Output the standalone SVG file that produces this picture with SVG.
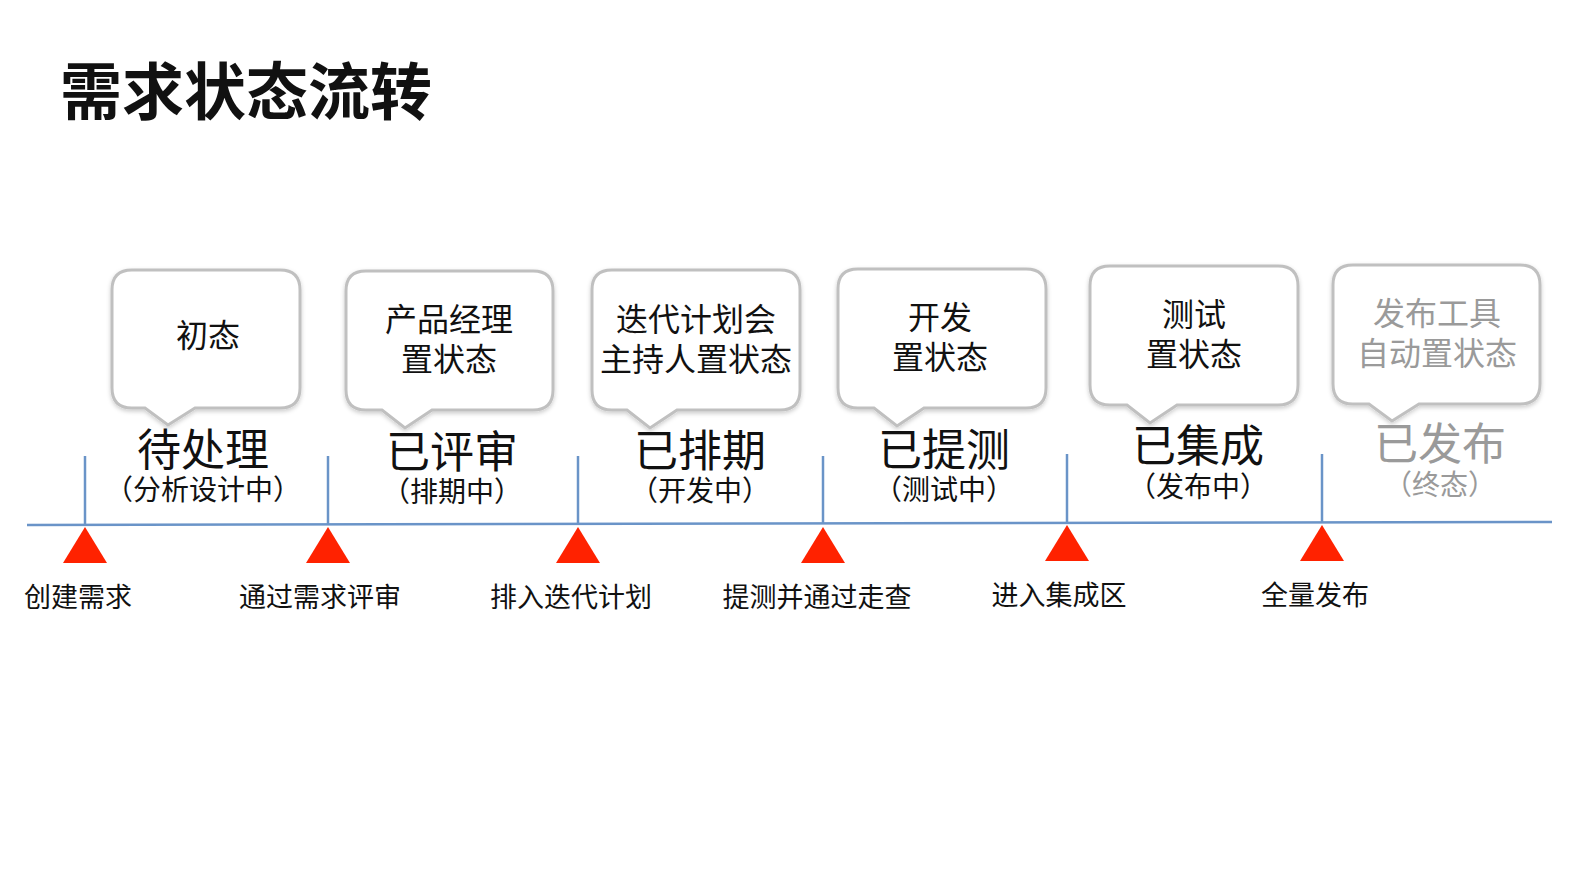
<svg xmlns="http://www.w3.org/2000/svg" width="1587" height="892" viewBox="0 0 1587 892">
<style>
text{font-family:"Liberation Sans","Noto Sans CJK SC",sans-serif;text-anchor:middle;fill:#111}
.t{font-size:62px;text-anchor:start;font-weight:bold}
.c{font-size:32px}
.s{font-size:44px}
.p{font-size:28px}
.b{font-size:27px}
.g{fill:#9a9a9a}
.bub{fill:#fff;stroke:#c0c0c0;stroke-width:3}
.tick{stroke:#6a94c8;stroke-width:2.5}
.tri{fill:#ff2200}
</style>
<defs><filter id="sh"><feDropShadow dx="0" dy="2" stdDeviation="2" flood-opacity="0.2"/></filter></defs>
<text class="t" x="60" y="115">需求状态流转</text>
<g id="connectors">
<line class="tick" x1="27" y1="525" x2="1552" y2="522"/>
<line class="tick" x1="85" y1="456" x2="85" y2="525"/>
<line class="tick" x1="328" y1="456" x2="328" y2="525"/>
<line class="tick" x1="578" y1="456" x2="578" y2="524"/>
<line class="tick" x1="823" y1="456" x2="823" y2="524"/>
<line class="tick" x1="1067" y1="454" x2="1067" y2="523"/>
<line class="tick" x1="1322" y1="454" x2="1322" y2="523"/>
<polygon class="tri" points="85,527 107,563 63,563"/>
<polygon class="tri" points="328,527 350,563 306,563"/>
<polygon class="tri" points="578,527 600,563 556,563"/>
<polygon class="tri" points="823,527 845,563 801,563"/>
<polygon class="tri" points="1067,525 1089,561 1045,561"/>
<polygon class="tri" points="1322,525 1344,561 1300,561"/>
</g>
<g id="n1"><path class="bub" filter="url(#sh)" d="M132,270 H280 Q300,270 300,290 V388 Q300,408 280,408 H195 L168,425 L145,408 H132 Q112,408 112,388 V290 Q112,270 132,270 Z"/>
<text class="c" x="208" y="347">初态</text>
<text class="s" x="203" y="466">待处理</text><text class="p" x="203" y="500">（分析设计中）</text>
<text class="b" x="78" y="607">创建需求</text></g>
<g id="n2"><path class="bub" filter="url(#sh)" d="M366,271 H533 Q553,271 553,291 V390 Q553,410 533,410 H432 L405,428 L382,410 H366 Q346,410 346,390 V291 Q346,271 366,271 Z"/>
<text class="c" x="449" y="331">产品经理</text><text class="c" x="449" y="371">置状态</text>
<text class="s" x="452" y="468">已评审</text><text class="p" x="452" y="502">（排期中）</text>
<text class="b" x="320" y="607">通过需求评审</text></g>
<g id="n3"><path class="bub" filter="url(#sh)" d="M612,270 H780 Q800,270 800,290 V390 Q800,410 780,410 H677 L650,428 L627,410 H612 Q592,410 592,390 V290 Q592,270 612,270 Z"/>
<text class="c" x="696" y="331">迭代计划会</text><text class="c" x="696" y="371">主持人置状态</text>
<text class="s" x="700" y="467">已排期</text><text class="p" x="700" y="501">（开发中）</text>
<text class="b" x="571" y="607">排入迭代计划</text></g>
<g id="n4"><path class="bub" filter="url(#sh)" d="M858,269 H1026 Q1046,269 1046,289 V388 Q1046,408 1026,408 H924 L897,426 L874,408 H858 Q838,408 838,388 V289 Q838,269 858,269 Z"/>
<text class="c" x="940" y="329">开发</text><text class="c" x="940" y="369">置状态</text>
<text class="s" x="944" y="466">已提测</text><text class="p" x="944" y="500">（测试中）</text>
<text class="b" x="817" y="607">提测并通过走查</text></g>
<g id="n5"><path class="bub" filter="url(#sh)" d="M1110,266 H1278 Q1298,266 1298,286 V385 Q1298,405 1278,405 H1177 L1150,423 L1127,405 H1110 Q1090,405 1090,385 V286 Q1090,266 1110,266 Z"/>
<text class="c" x="1194" y="326">测试</text><text class="c" x="1194" y="366">置状态</text>
<text class="s" x="1198" y="462">已集成</text><text class="p" x="1198" y="497">（发布中）</text>
<text class="b" x="1059" y="605">进入集成区</text></g>
<g id="n6"><path class="bub" filter="url(#sh)" d="M1353,265 H1520 Q1540,265 1540,285 V384 Q1540,404 1520,404 H1419 L1392,421 L1369,404 H1353 Q1333,404 1333,384 V285 Q1333,265 1353,265 Z"/>
<text class="c g" x="1437" y="325">发布工具</text><text class="c g" x="1437" y="365">自动置状态</text>
<text class="s g" x="1440" y="460">已发布</text><text class="p g" x="1440" y="495">（终态）</text>
<text class="b" x="1315" y="605">全量发布</text></g>
</svg>
